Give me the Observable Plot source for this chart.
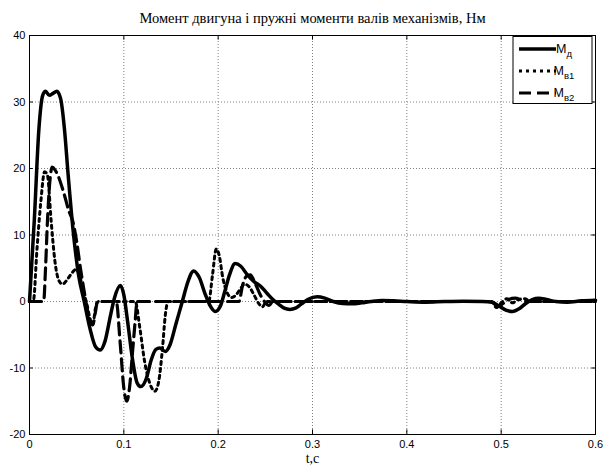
<!DOCTYPE html>
<html>
<head>
<meta charset="utf-8">
<script src="https://cdn.jsdelivr.net/npm/d3@7"></script>
<script src="https://cdn.jsdelivr.net/npm/@observablehq/plot@0.6"></script>
<style>
html,body{margin:0;padding:0;background:#fff;}
#chart{width:603px;height:468px;}
</style>
</head>
<body>
<div id="chart"></div>
<script>
const titleText = "Момент двигуна і пружні моменти валів механізмів, Нм";
const xLabel = "t,c";
const xTicks = [0, 0.1, 0.2, 0.3, 0.4, 0.5, 0.6];
const yTicks = [-20, -10, 0, 10, 20, 30, 40];
const legendNames = [["М", "д"], ["М", "в1"], ["М", "в2"]];

// M_д (motor torque), solid
const tD = [0,0.005,0.010,0.014,0.017,0.021,0.025,0.029,0.033,0.037,0.041,0.046,0.052,0.058,0.064,0.070,0.075,0.080,0.086,0.090,0.0965,0.100,0.104,0.109,0.114,0.118,0.124,0.129,0.134,0.138,0.144,0.149,0.155,0.162,0.168,0.174,0.180,0.186,0.191,0.197,0.202,0.207,0.212,0.218,0.224,0.231,0.238,0.245,0.252,0.258,0.264,0.270,0.276,0.282,0.288,0.295,0.305,0.313,0.322,0.332,0.342,0.352,0.362,0.374,0.386,0.400,0.420,0.440,0.460,0.480,0.490,0.497,0.505,0.512,0.519,0.526,0.533,0.540,0.548,0.558,0.570,0.585,0.600];
const mD = [0,12,26,31,31.6,31,31.3,31.6,30.5,26,19,11,4,0,-4,-6.8,-7.3,-6,-2,0.5,2.4,1,-3,-8.5,-12.2,-12.8,-11.5,-8.8,-7.2,-7,-7.5,-6.5,-3.5,0,3,4.6,3.6,1.2,-0.5,-1.5,-0.8,1.5,4,5.7,5.3,4,3,2.3,1.2,0.3,-0.4,-1.0,-1.2,-1.0,-0.4,0.3,0.7,0.5,0,-0.3,-0.35,-0.2,0,0.15,0.1,0,-0.1,0,0.05,0,-0.1,-0.6,-1.3,-1.5,-1.1,-0.3,0.3,0.5,0.3,0,-0.1,0.1,0.2];

// M_в1, dotted
const tB1 = [0,0.004,0.008,0.012,0.016,0.019,0.023,0.027,0.031,0.035,0.040,0.045,0.049,0.053,0.057,0.061,0.064,0.067,0.070,0.073,0.112,0.117,0.122,0.128,0.133,0.137,0.141,0.144,0.147,0.190,0.194,0.198,0.201,0.205,0.209,0.214,0.219,0.224,0.228,0.233,0.238,0.243,0.247,0.251,0.490,0.495,0.500,0.506,0.512,0.518,0.525,0.532,0.600];
const mB1 = [0,0,8,15,19.5,19,12,6,3.2,2.6,3.3,4.3,4.8,4,1.5,-0.5,-2.5,-3.5,-1,0,0,-4,-9,-12.5,-13.5,-12,-7,-2,0,0,4,7.9,7,3.5,1.5,0.6,1,2,2.6,2.2,1,-0.3,-0.8,0,0,-0.9,-0.2,0.4,-0.2,0.3,0.4,0,0];

// M_в2, dashed
const tB2 = [0,0.015,0.017,0.019,0.021,0.024,0.027,0.030,0.036,0.042,0.046,0.050,0.054,0.058,0.061,0.064,0.067,0.070,0.072,0.092,0.096,0.100,0.103,0.106,0.109,0.112,0.114,0.222,0.226,0.230,0.234,0.239,0.244,0.249,0.254,0.258,0.490,0.496,0.502,0.508,0.515,0.522,0.530,0.600];
const mB2 = [0,0,5,12,17,20.2,19.8,19,16.5,13.5,12,9,5,1.5,-1,-3,-3.5,-1.5,0,0,-6,-13,-15,-13,-8,-3,0,0,2.5,3.8,4,2.8,1.2,0,-0.6,0,0,-0.8,-0.3,0.3,0.5,0.2,0,0];

const dD = tD.map((t, i) => ({t, v: mD[i]}));
const dB1 = tB1.map((t, i) => ({t, v: mB1[i]}));
const dB2 = tB2.map((t, i) => ({t, v: mB2[i]}));

const serif = "Liberation Serif, Times New Roman, serif";
const sans = "Liberation Sans, Arial, sans-serif";

const chart = Plot.plot({
  width: 603,
  height: 468,
  marginLeft: 29,
  marginRight: 8,
  marginTop: 35,
  marginBottom: 34,
  style: {fontFamily: sans, fontSize: "11px", background: "#fff", color: "#000"},
  x: {domain: [0, 0.6]},
  y: {domain: [-20, 40]},
  marks: [
    Plot.gridX(xTicks, {stroke: "#808080", strokeOpacity: 1, strokeDasharray: "1,2"}),
    Plot.gridY(yTicks, {stroke: "#808080", strokeOpacity: 1, strokeDasharray: "1,2"}),
    Plot.axisX(xTicks, {tickSize: 0, tickPadding: 6, label: null, tickFormat: d => String(d), fontSize: 11}),
    Plot.axisY(yTicks, {tickSize: 0, tickPadding: 4, label: null, tickFormat: d => String(d), fontSize: 11}),
    Plot.ruleX(xTicks, {x: d => d, y1: -20, y2: -19.3, stroke: "black"}),
    Plot.ruleX(xTicks, {x: d => d, y1: 40, y2: 39.3, stroke: "black"}),
    Plot.ruleY(yTicks, {y: d => d, x1: 0, x2: 0.004, stroke: "black"}),
    Plot.ruleY(yTicks, {y: d => d, x1: 0.6, x2: 0.596, stroke: "black"}),
    Plot.line(dB2, {x: "t", y: "v", stroke: "black", strokeWidth: 3.2, strokeDasharray: "12,6", curve: "monotone-x"}),
    Plot.line(dB1, {x: "t", y: "v", stroke: "black", strokeWidth: 3, strokeDasharray: "3,4", curve: "monotone-x"}),
    Plot.line(dD, {x: "t", y: "v", stroke: "black", strokeWidth: 3.5, curve: "monotone-x"}),
    Plot.frame({stroke: "black", strokeWidth: 1}),
    Plot.text([titleText], {frameAnchor: "top", dy: -23, text: d => d, fontFamily: serif, fontSize: 14.5, fill: "black"}),
    Plot.text([xLabel], {frameAnchor: "bottom", dy: 28, text: d => d, fontFamily: serif, fontSize: 14, fill: "black"})
  ]
});

document.getElementById("chart").appendChild(chart);

// legend
const svg = d3.select(chart);
const lg = svg.append("g");
lg.append("rect").attr("x", 513).attr("y", 36.5).attr("width", 79).attr("height", 67)
  .attr("fill", "white").attr("stroke", "black").attr("stroke-width", 1);
const dashes = [null, "3,4", "12,6"];
const widths = [3.5, 3, 3.2];
const ys = [49, 71, 93];
legendNames.forEach((n, i) => {
  const l = lg.append("line").attr("x1", 519).attr("x2", 556).attr("y1", ys[i]).attr("y2", ys[i])
    .attr("stroke", "black").attr("stroke-width", widths[i]);
  if (dashes[i]) l.attr("stroke-dasharray", dashes[i]);
  const t = lg.append("text").attr("x", 564).attr("y", ys[i] + 4)
    .attr("font-family", sans).attr("font-size", 12.5).attr("fill", "black");
  t.append("tspan").text(n[0]);
  t.append("tspan").attr("dy", 4).attr("font-size", 9.5).text(n[1]);
});
</script>
</body>
</html>
